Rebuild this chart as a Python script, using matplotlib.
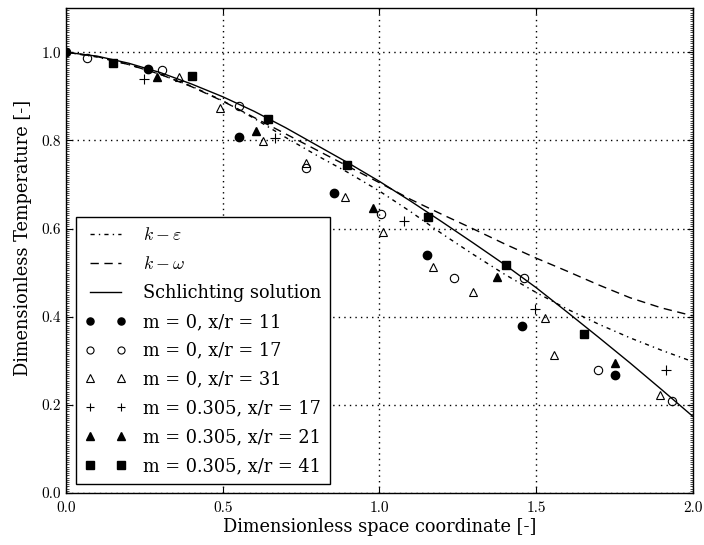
import matplotlib
matplotlib.use("Agg")
import matplotlib.pyplot as plt
from matplotlib.ticker import MultipleLocator

plt.rcParams['font.family'] = 'DejaVu Serif'
plt.rcParams['mathtext.fontset'] = 'cm'

# ------------------------------------------------------------
# Model curves (dimensionless radius vs. dimensionless temperature)
# ------------------------------------------------------------
x_model = [0.0, 0.1, 0.2, 0.3, 0.4, 0.5, 0.6, 0.7, 0.8, 0.9, 1.0,
           1.1, 1.2, 1.3, 1.4, 1.5, 1.6, 1.7, 1.8, 1.9, 2.0]
t_keps = [1.000, 0.989, 0.972, 0.950, 0.923, 0.890, 0.850, 0.807, 0.766, 0.727, 0.685,
          0.638, 0.588, 0.541, 0.496, 0.455, 0.417, 0.383, 0.352, 0.324, 0.298]
t_komega = [1.000, 0.990, 0.972, 0.950, 0.922, 0.889, 0.852, 0.815, 0.778, 0.741, 0.704,
            0.666, 0.632, 0.599, 0.565, 0.533, 0.503, 0.472, 0.443, 0.420, 0.402]
t_schlichting = [1.000, 0.991, 0.975, 0.954, 0.928, 0.899, 0.866, 0.829, 0.789, 0.749, 0.707,
                 0.662, 0.615, 0.567, 0.518, 0.466, 0.410, 0.353, 0.295, 0.235, 0.174]

# ------------------------------------------------------------
# Measurements
# ------------------------------------------------------------
x_m0_11 = [0.0, 0.26, 0.551, 0.856, 1.152, 1.454, 1.751]
t_m0_11 = [1.0, 0.961, 0.807, 0.681, 0.541, 0.380, 0.267]

x_m0_17 = [0.068, 0.307, 0.551, 0.765, 1.004, 1.238, 1.461, 1.697, 1.935]
t_m0_17 = [0.986, 0.960, 0.877, 0.738, 0.634, 0.488, 0.487, 0.278, 0.208]

x_m0_31 = [0.361, 0.491, 0.629, 0.765, 0.890, 1.011, 1.172, 1.299, 1.528, 1.557, 1.895]
t_m0_31 = [0.944, 0.874, 0.798, 0.749, 0.672, 0.592, 0.512, 0.456, 0.397, 0.314, 0.223]

x_m305_17 = [0.247, 0.667, 1.078, 1.497, 1.916]
t_m305_17 = [0.939, 0.806, 0.618, 0.418, 0.279]

x_m305_21 = [0.291, 0.606, 0.980, 1.375, 1.751]
t_m305_21 = [0.944, 0.822, 0.647, 0.490, 0.294]

x_m305_41 = [0.149, 0.403, 0.645, 0.895, 1.156, 1.405, 1.652]
t_m305_41 = [0.976, 0.947, 0.849, 0.744, 0.627, 0.518, 0.360]

# ------------------------------------------------------------
# Figure
# ------------------------------------------------------------
fig = plt.figure(figsize=(7.04, 5.45), dpi=100)
ax = fig.add_axes([0.094, 0.0954, 0.890, 0.8896])

ax.plot(x_model, t_keps, color='k', lw=1.0, linestyle=(0, (3, 3, 1, 3)),
        label=r'$k-\varepsilon$')
ax.plot(x_model, t_komega, color='k', lw=1.0, linestyle=(0, (6, 4)),
        label=r'$k-\omega$')
ax.plot(x_model, t_schlichting, color='k', lw=1.0, linestyle='-',
        label='Schlichting solution')

ms = 6
ax.plot(x_m0_11, t_m0_11, ls='none', marker='o', ms=ms, mfc='k', mec='k',
        label='m = 0, x/r = 11')
ax.plot(x_m0_17, t_m0_17, ls='none', marker='o', ms=ms, mfc='none', mec='k',
        mew=0.8, label='m = 0, x/r = 17')
ax.plot(x_m0_31, t_m0_31, ls='none', marker='^', ms=ms, mfc='none', mec='k',
        mew=0.8, label='m = 0, x/r = 31')
ax.plot(x_m305_17, t_m305_17, ls='none', marker='+', ms=ms + 1, mec='k',
        mew=0.8, label='m = 0.305, x/r = 17')
ax.plot(x_m305_21, t_m305_21, ls='none', marker='^', ms=ms, mfc='k', mec='k',
        label='m = 0.305, x/r = 21')
ax.plot(x_m305_41, t_m305_41, ls='none', marker='s', ms=ms, mfc='k', mec='k',
        label='m = 0.305, x/r = 41')

ax.set_xlim(0, 2.0)
ax.set_ylim(0, 1.1)
ax.xaxis.set_major_locator(MultipleLocator(0.5))
ax.yaxis.set_major_locator(MultipleLocator(0.2))
ax.yaxis.set_minor_locator(MultipleLocator(0.005))

ax.grid(True, which='major', color='k', lw=1.0, linestyle=(0, (1, 3)))
ax.tick_params(which='major', direction='in', length=4, width=0.8,
               top=True, right=True, labelsize=11, labelfontfamily='cmr10')
ax.tick_params(which='minor', axis='y', direction='in', length=2.5, width=0.5,
               left=True, right=True)
ax.tick_params(axis='x', pad=6)

for s in ax.spines.values():
    s.set_linewidth(1.0)

ax.set_xlabel('Dimensionless space coordinate [-]', fontsize=12.8, labelpad=2)
ax.set_ylabel('Dimensionless Temperature [-]', fontsize=12.8)
ax.yaxis.set_label_coords(-0.054, 0.526)

leg = ax.legend(loc='lower left', bbox_to_anchor=(0.016, 0.0186), borderaxespad=0,
                numpoints=2, fontsize=12.8, fancybox=False, framealpha=1,
                edgecolor='k', handlelength=2.3, handletextpad=0.93,
                labelspacing=0.61, markerscale=0.85, borderpad=0.5)
leg.get_frame().set_linewidth(1.0)

fig.savefig('out.png', dpi=100)
